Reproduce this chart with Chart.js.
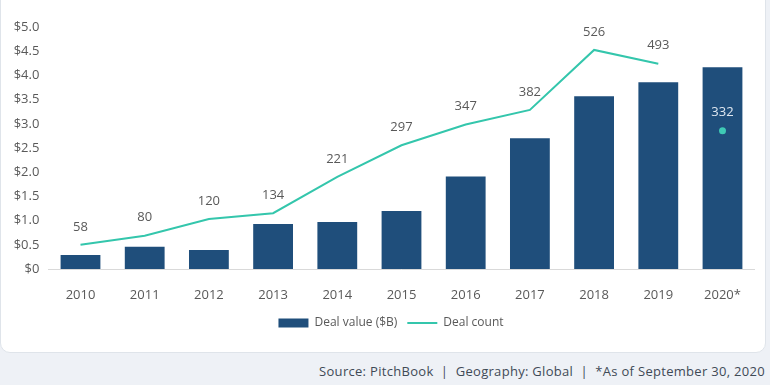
<!DOCTYPE html>
<html lang="en">
<head>
    <meta charset="utf-8">
    <script src="https://cdn.jsdelivr.net/npm/chart.js"></script>
    <style>
        body {
            margin: 0;
            padding: 0;
            background-color: #eef1f6;
            width: 770px;
            height: 385px;
            overflow: hidden;
            position: relative;
            font-family: "Open Sans", Arial, sans-serif;
        }

        /* white card behind the chart */
        .card {
            position: absolute;
            left: 0;
            top: -12px;
            width: 764px;
            height: 363px;
            background-color: #ffffff;
            border: 1px solid #dfe4ea;
            border-radius: 10px;
        }

        .chart-box {
            position: absolute;
            left: 0;
            top: 0;
            width: 770px;
            height: 339px;
        }

        .source {
            position: absolute;
            right: 5px;
            top: 362px;
            font-size: 13px;
            letter-spacing: 0.3px;
            color: #3f4a56;
            white-space: nowrap;
        }
    </style>
</head>
<body>
    <div class="card"></div>
    <div class="chart-box">
        <canvas id="dealChart" width="770" height="339"></canvas>
    </div>
    <div class="source">Source: PitchBook&nbsp; |&nbsp; Geography: Global&nbsp; |&nbsp; *As of September 30, 2020</div>
    <script>
        // Data
        const years = ['2010', '2011', '2012', '2013', '2014', '2015', '2016', '2017', '2018', '2019', '2020*'];
        const dealValue = [0.29, 0.46, 0.39, 0.93, 0.97, 1.20, 1.91, 2.70, 3.57, 3.86, 4.17];
        const dealCount = [58, 80, 120, 134, 221, 297, 347, 382, 526, 493, null];
        const dealCount2020 = [null, null, null, null, null, null, null, null, null, null, 332];
        const valueTicks = [0, 0.5, 1.0, 1.5, 2.0, 2.5, 3.0, 3.5, 4.0, 4.5, 5.0];

        const barColor = '#1f4e7b';
        const lineColor = '#34c6ac';
        const textColor = '#595959';

        // Draws the count above each line point
        const countLabels = {
            id: 'countLabels',
            afterDatasetsDraw(chart) {
                const ctx = chart.ctx;
                ctx.save();
                ctx.font = '13px "Open Sans", Arial, sans-serif';
                ctx.textAlign = 'center';
                ctx.textBaseline = 'middle';
                [1, 2].forEach(idx => {
                    const ds = chart.data.datasets[idx];
                    chart.getDatasetMeta(idx).data.forEach((pt, i) => {
                        const v = ds.data[i];
                        if (v === null) return;
                        ctx.fillStyle = idx === 2 ? '#dfe7f0' : textColor;
                        ctx.fillText(v, pt.x, pt.y - 18);
                    });
                });
                ctx.restore();
            }
        };

        const ctx = document.getElementById('dealChart').getContext('2d');
        new Chart(ctx, {
            data: {
                labels: years,
                datasets: [
                    {
                        type: 'bar',
                        label: 'Deal value ($B)',
                        data: dealValue,
                        backgroundColor: barColor,
                        yAxisID: 'y',
                        barPercentage: 0.62,
                        categoryPercentage: 1.0,
                        order: 2
                    },
                    {
                        type: 'line',
                        label: 'Deal count',
                        data: dealCount,
                        borderColor: lineColor,
                        backgroundColor: lineColor,
                        borderWidth: 2,
                        pointRadius: 0,
                        tension: 0,
                        spanGaps: false,
                        yAxisID: 'y1',
                        order: 1
                    },
                    {
                        type: 'line',
                        label: '2020 count',
                        data: dealCount2020,
                        showLine: false,
                        pointRadius: 3.5,
                        pointBackgroundColor: '#3fcab5',
                        pointBorderWidth: 0,
                        yAxisID: 'y1',
                        order: 0
                    }
                ]
            },
            options: {
                responsive: false,
                animation: false,
                layout: {
                    padding: { left: 12, right: 0, top: 27, bottom: 0 }
                },
                plugins: {
                    tooltip: { enabled: false },
                    legend: {
                        position: 'bottom',
                        labels: {
                            font: { family: '"Open Sans", Arial, sans-serif', size: 12 },
                            color: textColor,
                            usePointStyle: true,
                            pointStyleWidth: 30,
                            boxHeight: 9,
                            padding: 10,
                            generateLabels: chart => [
                                {
                                    text: 'Deal value ($B)',
                                    fillStyle: barColor,
                                    strokeStyle: barColor,
                                    lineWidth: 0,
                                    pointStyle: 'rect',
                                    fontColor: textColor,
                                    datasetIndex: 0
                                },
                                {
                                    text: 'Deal count',
                                    fillStyle: lineColor,
                                    strokeStyle: lineColor,
                                    lineWidth: 2,
                                    pointStyle: 'line',
                                    fontColor: textColor,
                                    datasetIndex: 1
                                }
                            ]
                        }
                    }
                },
                scales: {
                    x: {
                        grid: { display: false },
                        border: { display: true, color: '#d9d9d9', width: 1 },
                        ticks: {
                            color: textColor,
                            font: { family: '"Open Sans", Arial, sans-serif', size: 13 },
                            padding: 10,
                            maxRotation: 0
                        },
                        afterFit: scale => { scale.height = 38; }
                    },
                    y: {
                        position: 'left',
                        min: 0,
                        max: 5,
                        grid: { display: false },
                        border: { display: false },
                        afterBuildTicks: scale => {
                            scale.ticks = valueTicks.map(v => ({ value: v }));
                        },
                        ticks: {
                            color: textColor,
                            font: { family: '"Open Sans", Arial, sans-serif', size: 13 },
                            padding: 1,
                            callback: v => v === 0 ? '$0' : '$' + v.toFixed(1)
                        },
                        afterFit: scale => { scale.width = 36.4; }
                    },
                    y1: {
                        position: 'right',
                        min: 0,
                        max: 581,
                        grid: { display: false },
                        border: { display: false },
                        ticks: { display: false },
                        afterFit: scale => { scale.width = 15.4; }
                    }
                }
            },
            plugins: [countLabels]
        });
    </script>
</body>
</html>
